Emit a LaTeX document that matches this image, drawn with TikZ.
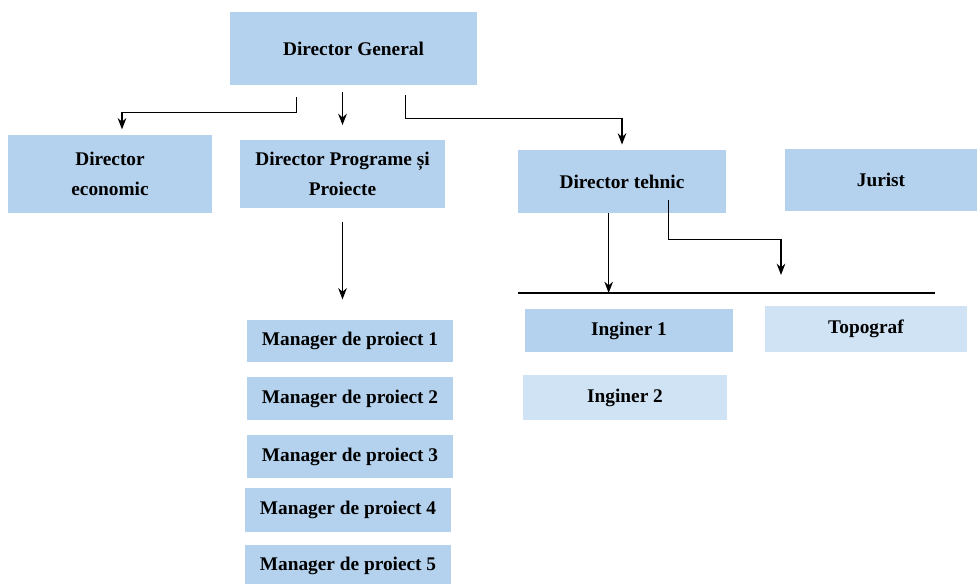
\documentclass[tikz,border=0pt]{standalone}
\usepackage{fontspec}
\setmainfont{Liberation Serif}
\usetikzlibrary{arrows.meta}
\definecolor{boxblue}{RGB}{180,210,237}
\definecolor{boxpale}{RGB}{208,227,245}
\tikzset{
  post/.style={fill=boxblue,align=center,inner sep=0pt,
    font=\fontsize{14.5}{22}\selectfont\bfseries},
  link/.style={-{Stealth[length=8.5pt,width=6.5pt]},line width=1pt}
}
\begin{document}
\begin{tikzpicture}[x=0.75pt,y=-0.75pt]
\useasboundingbox (0,0) rectangle (977,584);

\node[post,minimum width=185pt,minimum height=55pt] (dg) at (353.5,48.5) {Director General};

\node[post,minimum width=153pt,minimum height=58.5pt] (eco) at (110,174) {Director\\economic};
\node[post,minimum width=154pt,minimum height=51pt] (dpp) at (342.5,174) {Director Programe și\\Proiecte};
\node[post,minimum width=156pt,minimum height=47pt] (dt) at (622,181.5) {Director tehnic};
\node[post,minimum width=144pt,minimum height=46.5pt] (jur) at (881,180) {Jurist};

\node[post,minimum width=154.5pt,minimum height=32pt] (m1) at (350,341) {Manager de proiect 1};
\node[post,minimum width=154.5pt,minimum height=32pt] (m2) at (350,398.5) {Manager de proiect 2};
\node[post,minimum width=154.5pt,minimum height=32pt] (m3) at (350,456.5) {Manager de proiect 3};
\node[post,minimum width=154.5pt,minimum height=33pt] (m4) at (348,510) {Manager de proiect 4};
\node[post,minimum width=154.5pt,minimum height=32pt] (m5) at (348,566) {Manager de proiect 5};

\node[post,minimum width=156pt,minimum height=32pt] (ing1) at (629,330.5) {Inginer 1};
\node[post,fill=boxpale,minimum width=153pt,minimum height=34pt] (ing2) at (625,397.5) {Inginer 2};
\node[post,fill=boxpale,minimum width=151.5pt,minimum height=34.5pt] (topo) at (866,329) {Topograf};

% from the general director
\draw[link,shorten <=9pt,shorten >=4pt] ([xshift=-43pt]dg.south) -- ++(0,27) -| ([xshift=9pt]eco.north);
\draw[link,shorten <=5pt,shorten >=11pt] (dg.south -| dpp.north) -- (dpp.north);
\draw[link,shorten <=7pt,shorten >=4pt] ([xshift=39pt]dg.south) -- ++(0,33) -| (dt.north);

% programs and projects
\draw[link,shorten <=10pt,shorten >=15pt] (dpp.south) -- (dpp.south |- m1.north);

% technical director
\coordinate (busL) at (518,293);
\coordinate (busR) at (935,293);
\coordinate (topoIn) at (781,275);
\draw[line width=1.4pt] (busL) -- (busR);
\draw[link] ([xshift=-10pt]dt.south) -- ([xshift=-10pt]dt.south |- busL);
\draw[link] ([xshift=35pt,yshift=10pt]dt.south) -- ++(0,40) -| (topoIn);
\end{tikzpicture}
\end{document}
